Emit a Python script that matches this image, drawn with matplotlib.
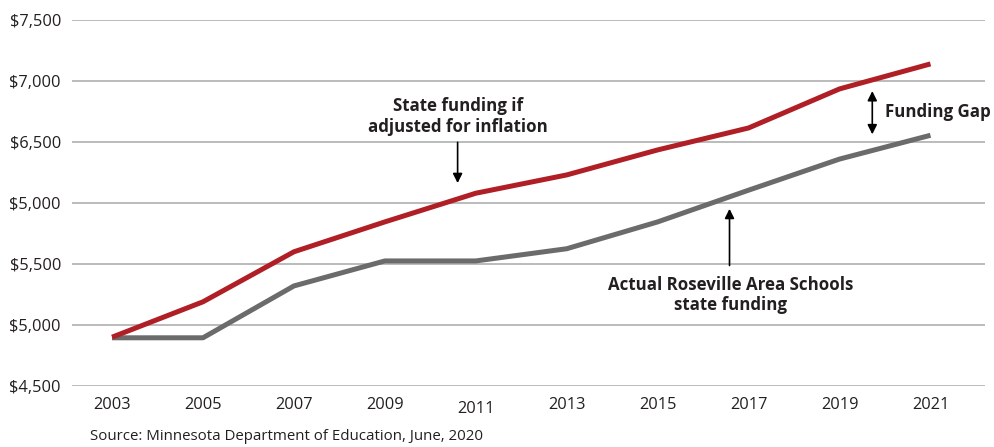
import matplotlib
matplotlib.use("Agg")
from matplotlib import pyplot as plt

# datos
anios = [2003, 2005, 2007, 2009, 2011, 2013, 2015, 2017, 2019, 2021]
ajustado_inflacion = [4900, 5190, 5600, 5845, 6080, 6230, 6435, 6615, 6935, 7140]
financiamiento_real = [4895, 4895, 5320, 5525, 5525, 5625, 5845, 6105, 6360, 6555]

valores_y = [4500, 5000, 5500, 6000, 6500, 7000, 7500]
etiquetas_y = ["$4,500", "$5,000", "$5,500", "$5,000", "$6,500", "$7,000", "$7,500"]

ROJO = "#B01F26"
GRIS = "#6B6B6B"
TEXTO = "#231F20"

plt.rcParams['font.family'] = ['Open Sans', 'DejaVu Sans']

fig = plt.figure(figsize=(9.95, 4.47), dpi=100)
ax = fig.add_axes([0.0724, 0.1365, 0.9176, 0.8188])

ax.plot(anios, financiamiento_real, color=GRIS, linewidth=3.6, solid_capstyle='butt', zorder=3)
ax.plot(anios, ajustado_inflacion, color=ROJO, linewidth=3.6, solid_capstyle='butt', zorder=4)

ax.set_xlim(2002.12, 2022.2)
ax.set_ylim(4500, 7500)
ax.set_yticks(valores_y)
ax.set_yticklabels(etiquetas_y)
ax.set_xticks(anios)
ax.set_xticklabels([str(a) for a in anios])
ax.grid(axis='y', color='#A8A8A8', linewidth=1.1, zorder=1)
ax.set_axisbelow(True)
for s in ax.spines.values():
    s.set_visible(False)
ax.tick_params(axis='both', length=0, labelsize=11.8, colors=TEXTO)
ax.tick_params(axis='y', pad=8)
ax.tick_params(axis='x', pad=8)
# el 2011 esta un poco mas abajo en el original
for lbl in ax.get_xticklabels():
    if lbl.get_text() == "2011":
        lbl.set_y(-0.01)

# anotaciones
ax.text(2010.6, 6710, "State funding if\nadjusted for inflation", ha='center', va='center',
        fontsize=12.2, fontweight='bold', color=TEXTO, linespacing=1.2)
ax.annotate("", xy=(2010.6, 6140), xytext=(2010.6, 6520),
            arrowprops=dict(arrowstyle='-|>', color='black', lw=1.2, mutation_scale=14))

ax.text(2016.6, 5245, "Actual Roseville Area Schools\nstate funding", ha='center', va='center',
        fontsize=12.2, fontweight='bold', color=TEXTO, linespacing=1.2)
ax.annotate("", xy=(2016.58, 5975), xytext=(2016.58, 5465),
            arrowprops=dict(arrowstyle='-|>', color='black', lw=1.2, mutation_scale=14))

ax.annotate("", xy=(2019.72, 6940), xytext=(2019.72, 6540),
            arrowprops=dict(arrowstyle='<|-|>', color='black', lw=1.2, mutation_scale=14))
ax.text(2020.0, 6745, "Funding Gap", ha='left', va='center',
        fontsize=12.2, fontweight='bold', color=TEXTO)

fig.text(90 / 995, 1 - 437 / 447, "Source: Minnesota Department of Education, June, 2020",
         ha='left', va='center', fontsize=10.8, color=TEXTO)

fig.savefig("out.png", dpi=100)
